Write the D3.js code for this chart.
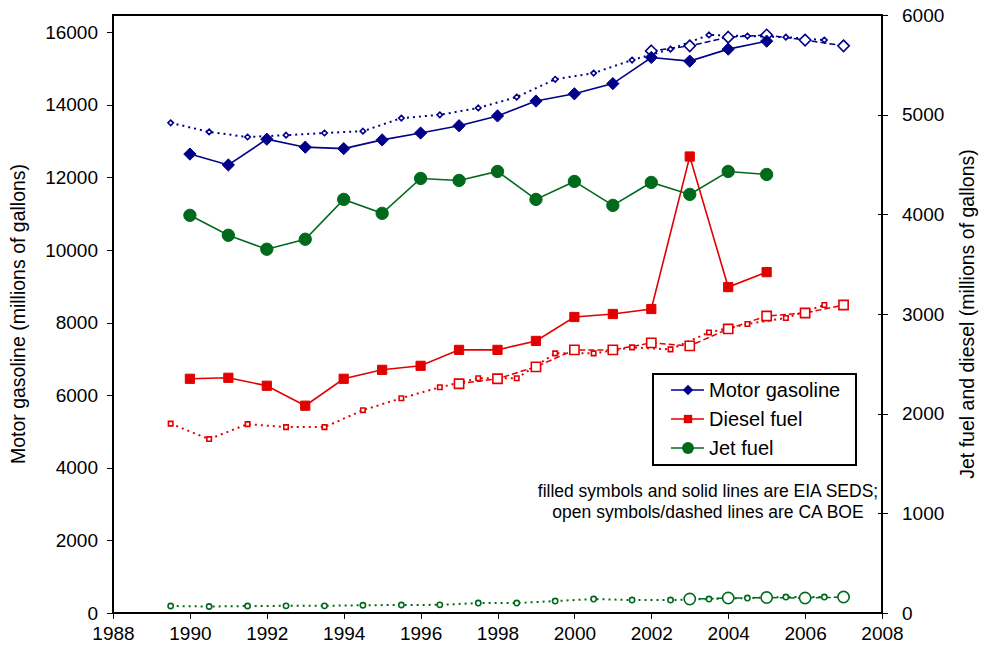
<!DOCTYPE html>
<html>
  <head>
    <meta charset="utf-8">
    <style>
    body {margin:0; background:white;}
    * { font-family: "Liberation Sans", Arial, sans-serif; }
    .axis path, .axis line { stroke: #000; shape-rendering: crispEdges; }
    .axis text { font-size: 19px; fill: #000; }
    </style>
  </head>
  <body>
    <div id="chart"></div>
    <script src="https://cdnjs.cloudflare.com/ajax/libs/d3/7.8.5/d3.min.js"></script>
<script>

  // EIA SEDS, calendar years
  var sedsYears = [1990,1991,1992,1993,1994,1995,1996,1997,1998,1999,2000,2001,2002,2003,2004,2005];
  var gasSeds = [12640,12340,13050,12830,12790,13030,13220,13420,13690,14100,14300,14580,15300,15200,15530,15750];
  var dieselSeds = [2350,2360,2280,2080,2350,2440,2480,2640,2640,2730,2970,3000,3050,4580,3270,3420];
  var jetSeds = [3990,3790,3650,3750,4150,4010,4360,4340,4430,4150,4330,4090,4320,4200,4430,4400];

  // CA BOE, fiscal years (plotted mid-year)
  var fyYears = [1989.5,1990.5,1991.5,1992.5,1993.5,1994.5,1995.5,1996.5,1997.5,1998.5,1999.5,2000.5,2001.5,2002.5,2003.5,2004.5,2005.5,2006.5];
  var gasBoeFy = [13500,13250,13110,13160,13220,13270,13630,13720,13910,14210,14700,14870,15230,15530,15920,15890,15860,15780];
  var dieselBoeFy = [1900,1745,1895,1865,1865,2035,2155,2265,2355,2355,2605,2605,2665,2645,2815,2900,2960,3090];
  var jetBoeFy = [70,65,70,72,72,78,80,82,100,100,120,140,130,130,140,150,160,160];

  // CA BOE, calendar years
  var gasBoeYears = [2002,2003,2004,2005,2006,2007];
  var gasBoeCal = [15480,15620,15860,15920,15780,15620];
  var dieselBoeYears = [1997,1998,1999,2000,2001,2002,2003,2004,2005,2006,2007];
  var dieselBoeCal = [2300,2350,2470,2640,2640,2710,2680,2850,2980,3010,3090];
  var jetBoeYears = [2003,2004,2005,2006,2007];
  var jetBoeCal = [140,150,155,150,160];

  var xTicks = [1988,1990,1992,1994,1996,1998,2000,2002,2004,2006,2008];
  var leftTicks = [0,2000,4000,6000,8000,10000,12000,14000,16000];
  var rightTicks = [0,1000,2000,3000,4000,5000,6000];

  var navy = "#000088", red = "#e30000", green = "#006a1c";

  var W = 981, H = 654;
  var pL = 113, pR = 882, pT = 15, pB = 613;

  var svg = d3.select("#chart").append("svg")
    .attr("width", W).attr("height", H);

  var x = d3.scaleLinear().domain([1988, 2008]).range([pL, pR]);
  var yL = d3.scaleLinear().domain([0, 16470]).range([pB, pT]);
  var yR = d3.scaleLinear().domain([0, 6000]).range([pB, pT]);

  // plot box
  svg.append("rect")
    .attr("x", pL).attr("y", pT)
    .attr("width", pR - pL).attr("height", pB - pT)
    .attr("fill", "none").attr("stroke", "#000").attr("stroke-width", 1.3)
    .style("shape-rendering", "crispEdges");

  svg.append("g").attr("class", "axis")
    .attr("transform", "translate(0," + pB + ")")
    .call(d3.axisBottom(x).tickValues(xTicks).tickFormat(d3.format("d")).tickSizeInner(6).tickSizeOuter(0).tickPadding(8));

  svg.append("g").attr("class", "axis")
    .attr("transform", "translate(" + pL + ",0)")
    .call(d3.axisLeft(yL).tickValues(leftTicks).tickFormat(d3.format("d")).tickSizeInner(6).tickSizeOuter(0).tickPadding(9));

  var ra = svg.append("g").attr("class", "axis")
    .attr("transform", "translate(" + pR + ",0)")
    .call(d3.axisRight(yR).tickValues(rightTicks).tickFormat(d3.format("d")).tickSizeInner(6).tickSizeOuter(0).tickPadding(14));
  ra.selectAll(".tick line").attr("x1", -4);

  svg.selectAll(".axis .domain").attr("stroke-width", 1.3);

  // axis titles
  svg.append("text")
    .attr("transform", "translate(25," + ((pT + pB) / 2) + ") rotate(-90)")
    .attr("text-anchor", "middle").style("font-size", "19.5px")
    .text("Motor gasoline (millions of gallons)");

  svg.append("text")
    .attr("transform", "translate(974," + ((pT + pB) / 2) + ") rotate(-90)")
    .attr("text-anchor", "middle").style("font-size", "19.5px")
    .text("Jet fuel and diesel (millions of gallons)");

  function pairs(xs, ys) {
    return xs.map(function(d, i) { return [d, ys[i]]; });
  }

  function series(xs, ys, y, color, dash, width) {
    var line = d3.line()
      .x(function(d) { return x(d[0]); })
      .y(function(d) { return y(d[1]); });
    svg.append("path")
      .datum(pairs(xs, ys))
      .attr("d", line)
      .attr("fill", "none")
      .attr("stroke", color)
      .attr("stroke-width", width)
      .attr("stroke-dasharray", dash);
  }

  function markers(xs, ys, y, color, shape, size, filled) {
    svg.append("g").selectAll("path")
      .data(pairs(xs, ys))
      .enter().append("path")
      .attr("transform", function(d) { return "translate(" + x(d[0]) + "," + y(d[1]) + ")"; })
      .attr("d", d3.symbol().type(shape).size(size))
      .attr("fill", filled ? color : "white")
      .attr("stroke", color)
      .attr("stroke-width", filled ? 1 : 1.6);
  }

  var diamond = {
    draw: function(ctx, size) {
      var r = Math.sqrt(size) / 2;
      ctx.moveTo(0, -r); ctx.lineTo(r, 0); ctx.lineTo(0, r); ctx.lineTo(-r, 0); ctx.closePath();
    }
  };

  // CA BOE fiscal-year (dotted, small open symbols)
  series(fyYears, gasBoeFy, yL, navy, "2,4", 2);
  series(fyYears, dieselBoeFy, yR, red, "2,4", 2);
  series(fyYears, jetBoeFy, yR, green, "2,4", 2);
  // CA BOE calendar (dashed, large open symbols)
  series(gasBoeYears, gasBoeCal, yL, navy, "6,3", 1.5);
  series(dieselBoeYears, dieselBoeCal, yR, red, "6,3", 1.5);
  series(jetBoeYears, jetBoeCal, yR, green, "6,3", 1.5);
  // EIA SEDS (solid)
  series(sedsYears, gasSeds, yL, navy, null, 1.6);
  series(sedsYears, dieselSeds, yR, red, null, 1.6);
  series(sedsYears, jetSeds, yR, green, null, 1.6);

  markers(fyYears, gasBoeFy, yL, navy, diamond, 30, false);
  markers(fyYears, dieselBoeFy, yR, red, d3.symbolSquare, 20, false);
  markers(fyYears, jetBoeFy, yR, green, d3.symbolCircle, 22, false);
  markers(gasBoeYears, gasBoeCal, yL, navy, diamond, 130, false);
  markers(dieselBoeYears, dieselBoeCal, yR, red, d3.symbolSquare, 85, false);
  markers(jetBoeYears, jetBoeCal, yR, green, d3.symbolCircle, 100, false);
  markers(sedsYears, gasSeds, yL, navy, diamond, 150, true);
  markers(sedsYears, dieselSeds, yR, red, d3.symbolSquare, 85, true);
  markers(sedsYears, jetSeds, yR, green, d3.symbolCircle, 120, true);

  // legend
  var legendItems = [
    { name: "Motor gasoline", color: navy, shape: diamond, size: 110 },
    { name: "Diesel fuel", color: red, shape: d3.symbolSquare, size: 70 },
    { name: "Jet fuel", color: green, shape: d3.symbolCircle, size: 110 }
  ];

  var legend = svg.append("g").attr("transform", "translate(653,374)");
  legend.append("rect")
    .attr("width", 203).attr("height", 91)
    .attr("fill", "white").attr("stroke", "#000").attr("stroke-width", 1.3)
    .style("shape-rendering", "crispEdges");

  var li = legend.selectAll(".li").data(legendItems).enter().append("g")
    .attr("transform", function(d, i) { return "translate(0," + (16 + i * 29) + ")"; });
  li.append("line")
    .attr("x1", 18).attr("x2", 51)
    .attr("stroke", function(d) { return d.color; }).attr("stroke-width", 1.6);
  li.append("path")
    .attr("transform", "translate(35,0)")
    .attr("d", function(d) { return d3.symbol().type(d.shape).size(d.size)(); })
    .attr("fill", function(d) { return d.color; });
  li.append("text")
    .attr("x", 56).attr("dy", "0.35em")
    .style("font-size", "20px")
    .text(function(d) { return d.name; });

  // note
  svg.append("text")
    .attr("x", 708).attr("y", 497)
    .attr("text-anchor", "middle").style("font-size", "17.5px")
    .text("filled symbols and solid lines are EIA SEDS;");
  svg.append("text")
    .attr("x", 708).attr("y", 518)
    .attr("text-anchor", "middle").style("font-size", "17.5px")
    .text("open symbols/dashed lines are CA BOE");

</script>
  </body>
</html>
